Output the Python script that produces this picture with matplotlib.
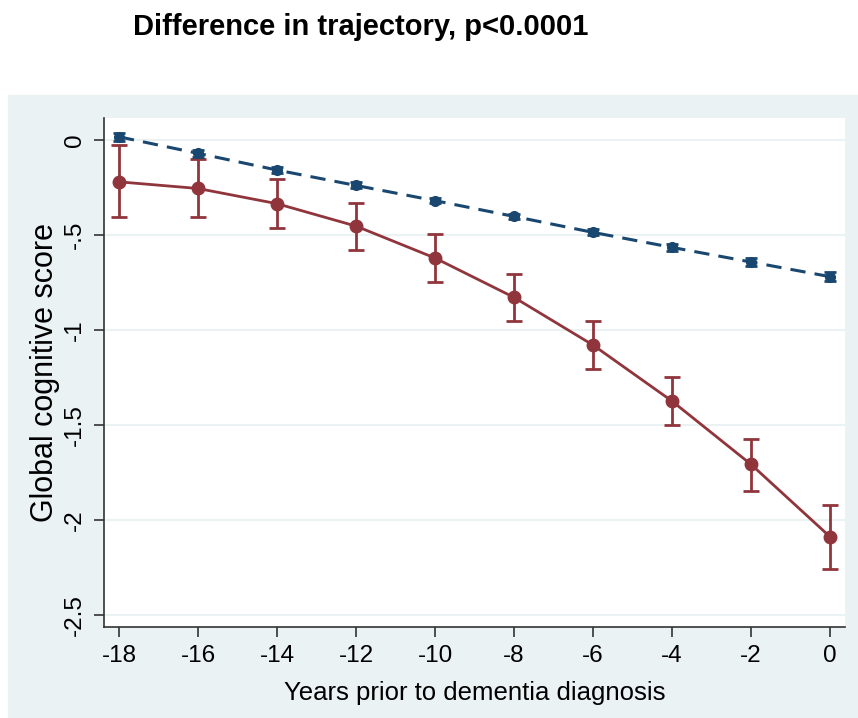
import matplotlib
matplotlib.use("Agg")
import matplotlib.pyplot as plt
from matplotlib.patches import Rectangle

plt.rcParams['font.family'] = ['Liberation Sans', 'DejaVu Sans']

years = [-18, -16, -14, -12, -10, -8, -6, -4, -2, 0]

# dementia group (red, solid)
dem_mean = [-0.22, -0.255, -0.335, -0.453, -0.621, -0.828, -1.079, -1.374, -1.707, -2.088]
dem_low = [-0.407, -0.407, -0.465, -0.581, -0.746, -0.954, -1.205, -1.500, -1.847, -2.256]
dem_high = [-0.026, -0.100, -0.204, -0.333, -0.495, -0.705, -0.954, -1.246, -1.574, -1.921]

# no dementia group (blue, dashed)
ctl_mean = [0.017, -0.070, -0.158, -0.239, -0.319, -0.402, -0.486, -0.565, -0.642, -0.719]
ctl_half = [0.022, 0.020, 0.018, 0.016, 0.015, 0.015, 0.016, 0.018, 0.020, 0.025]

yticks = [0, -0.5, -1, -1.5, -2, -2.5]
ytick_labels = ['0', '-.5', '-1', '-1.5', '-2', '-2.5']

red = '#90353b'
blue = '#1a476f'
bg = '#eaf2f3'

fig = plt.figure(figsize=(8.58, 7.18), dpi=100)
fig.patches.append(Rectangle((8 / 858, 0), 1, (718 - 95) / 718,
                             transform=fig.transFigure, color=bg, zorder=-10))

ax = fig.add_axes([104 / 858, (718 - 627) / 718, (845 - 104) / 858, (627 - 118) / 718])
ax.set_zorder(5)
ax.set_facecolor('white')

for y in yticks:
    ax.axhline(y, color=bg, lw=1.5, zorder=0)

err_lo = [m - l for m, l in zip(dem_mean, dem_low)]
err_hi = [h - m for m, h in zip(dem_mean, dem_high)]
ax.errorbar(years, dem_mean, yerr=[err_lo, err_hi], color=red, lw=2,
            marker='o', ms=9, capsize=6, capthick=2, elinewidth=2, zorder=3)
ax.errorbar(years, ctl_mean, yerr=ctl_half, color=blue, lw=2.2, ls=(0, (5, 3)),
            marker='o', ms=7, capsize=4, capthick=2, elinewidth=2, zorder=4)

ax.set_xlim(-18.38, 0.38)
ax.set_ylim(-2.563, 0.116)
ax.set_xticks(years)
ax.set_xticklabels([str(v) for v in years], fontsize=17.5)
ax.set_yticks(yticks)
ax.set_yticklabels(ytick_labels, fontsize=17.5, rotation=90, va='center')

for s in ['top', 'right']:
    ax.spines[s].set_visible(False)
for s in ['left', 'bottom']:
    ax.spines[s].set_color('#333333')
    ax.spines[s].set_linewidth(1.2)
ax.tick_params(direction='out', length=7, width=1.2, color='#333333', pad=6)

ax.set_xlabel('Years prior to dementia diagnosis', fontsize=18.5, labelpad=10)
ax.set_ylabel('Global cognitive score', fontsize=22, labelpad=3)

fig.text(133 / 858, 1 - 27 / 718, 'Difference in trajectory, p<0.0001',
         fontsize=21, fontweight='bold', ha='left', va='center')

fig.savefig('out.png', dpi=100)
